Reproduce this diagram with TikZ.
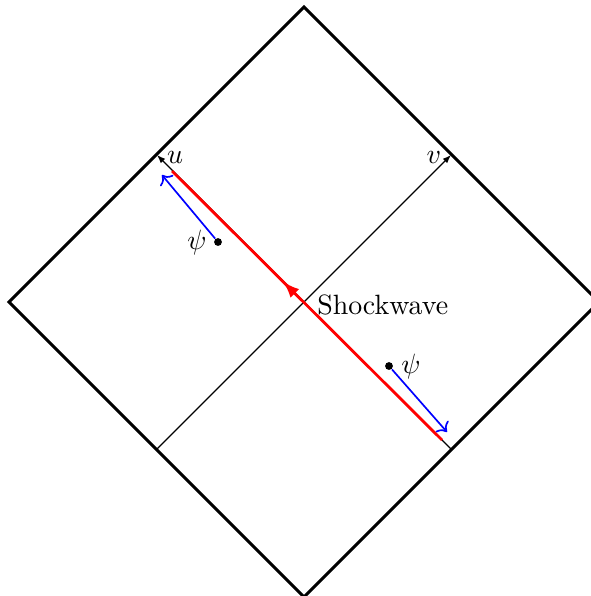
\documentclass[tikz,border=0pt]{standalone}
\usetikzlibrary{arrows.meta,decorations.markings}
\begin{document}
\begin{tikzpicture}[x=0.3584pt,y=-0.3584pt,
  wall/.style={line width=1.1pt, line join=miter},
  axis/.style={line width=0.4pt, -{Latex[length=3pt,width=2.2pt]}},
  shock/.style={red, line width=1pt, postaction={decorate},
    decoration={markings, mark=at position 0.59 with {\arrow{Latex[length=6pt,width=4.4pt]}}}},
  probe/.style={blue, line width=0.6pt, ->},
  dot/.style={circle, fill, inner sep=0pt, minimum size=2.8pt},
  lab/.style={inner sep=0pt}]
\useasboundingbox (0,0) rectangle (591,596);
\coordinate (T) at (304,7);
\coordinate (L) at (9,302);
\coordinate (B) at (304,597);
\coordinate (R) at (599,302);
\draw[wall] (T) -- (L) -- (B) -- (R) -- cycle;
\coordinate (ul) at (157,155);
\coordinate (ur) at (451,155);
\coordinate (ll) at (156.5,449.5);
\coordinate (lr) at (451.5,449.5);
\draw[axis] (ll) -- (ur);
\draw[axis] (lr) -- (ul);
\node[lab] (ulab) at (175,157) {$u$};
\node[lab] (vlab) at (434,157) {$v$};
\coordinate (s1) at (442,440);
\coordinate (s2) at (172,171);
\draw[shock] (s1) -- (s2);
\node[lab, anchor=base west] (shk) at (316.7,314) {Shockwave};
\node[dot] (p1) at (218,242) {};
\node[dot] (p2) at (389,366) {};
\coordinate (a1) at (162,175);
\coordinate (a2) at (447,432);
\draw[probe] (p1) -- (a1);
\draw[probe] (p2) -- (a2);
\node[lab] (psi1) at (197,243) {$\psi$};
\node[lab] (psi2) at (411,367) {$\psi$};
\end{tikzpicture}
\end{document}
